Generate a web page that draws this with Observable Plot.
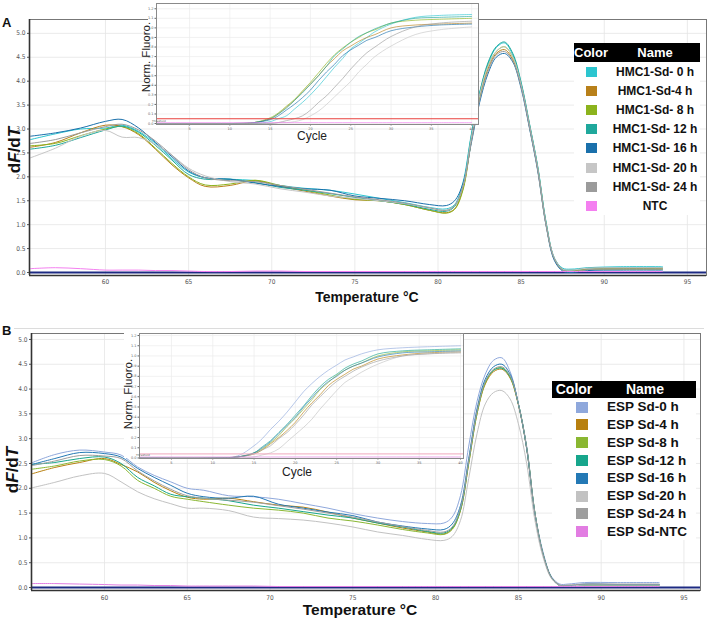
<!DOCTYPE html>
<html><head><meta charset="utf-8">
<script src="https://cdn.jsdelivr.net/npm/d3@7"></script>
<script src="https://cdn.jsdelivr.net/npm/@observablehq/plot@0.6"></script>
<style>
body{margin:0;background:#fff;font-family:"Liberation Sans",Arial,sans-serif;}
#root{position:relative;width:709px;height:619px;overflow:hidden;background:#fff;}
#root > *{position:absolute;}
</style></head><body><div id="root"></div>
<script>
// ---------- data ----------
const temps = [55.5, 57, 58.5, 60, 61, 62, 63, 64, 65, 66, 67.5, 69, 70.5, 72, 73.5, 75, 76.5, 78, 79.5, 80.5, 81, 81.5, 82, 82.5, 83, 83.5, 84, 84.5, 85, 85.5, 86, 86.5, 87, 87.5, 88, 89, 91, 93.5];
const tempTicks = [60, 65, 70, 75, 80, 85, 90, 95];
const dfTicks = [0, 0.5, 1, 1.5, 2, 2.5, 3, 3.5, 4, 4.5, 5];
const cycles = [1, 10, 13, 15, 16, 17, 18, 19, 20, 21, 22, 23, 24, 25, 26, 27, 28, 30, 33, 36, 40];
const cycleTicks = [5, 10, 15, 20, 25, 30, 35, 40];
const fluoTicks = [0, 0.1, 0.2, 0.3, 0.4, 0.5, 0.6, 0.7, 0.8, 0.9, 1.0, 1.1, 1.2];

const namesA = ["HMC1-Sd- 0 h", "HMC1-Sd-4 h", "HMC1-Sd- 8 h", "HMC1-Sd- 12 h", "HMC1-Sd- 16 h", "HMC1-Sd- 20 h", "HMC1-Sd- 24 h", "NTC"];
const colorsA = ["#2cc5cf", "#b8801a", "#8cb31d", "#1fa89c", "#1a70ab", "#c6c6c6", "#9b9b9b", "#f47ff0"];
const namesB = ["ESP Sd-0 h", "ESP Sd-4 h", "ESP Sd-8 h", "ESP Sd-12 h", "ESP Sd-16 h", "ESP Sd-20 h", "ESP Sd-24 h", "ESP Sd-NTC"];
const colorsB = ["#8fa8dc", "#b8800f", "#8ab732", "#17a68c", "#2479b5", "#c2c2c2", "#9e9e9e", "#e27de2"];

// melt curves, panel A
const meltA_0h  = [2.78, 2.9, 3.0, 3.02, 3.08, 2.95, 2.7, 2.38, 2.1, 1.98, 1.95, 1.92, 1.82, 1.76, 1.72, 1.64, 1.55, 1.46, 1.36, 1.33, 1.42, 1.88, 2.88, 3.75, 4.35, 4.7, 4.8, 4.55, 3.95, 3.1, 2.22, 1.05, 0.3, 0.09, 0.07, 0.1, 0.12, 0.12];
const meltA_4h  = [2.62, 2.72, 2.92, 3.08, 3.05, 2.88, 2.58, 2.25, 1.98, 1.8, 1.82, 1.92, 1.8, 1.7, 1.6, 1.52, 1.5, 1.42, 1.3, 1.25, 1.33, 1.75, 2.75, 3.65, 4.25, 4.58, 4.66, 4.45, 3.9, 3.05, 2.15, 1.0, 0.28, 0.06, 0.03, 0.07, 0.08, 0.08];
const meltA_8h  = [2.65, 2.7, 2.86, 3.0, 3.05, 2.9, 2.6, 2.28, 2.0, 1.83, 1.85, 1.93, 1.82, 1.72, 1.62, 1.53, 1.5, 1.42, 1.3, 1.24, 1.32, 1.72, 2.75, 3.65, 4.3, 4.62, 4.72, 4.5, 3.92, 3.08, 2.18, 1.02, 0.28, 0.05, 0.03, 0.06, 0.07, 0.07];
const meltA_12h = [2.58, 2.66, 2.82, 2.98, 3.06, 2.93, 2.66, 2.35, 2.05, 1.95, 1.95, 1.88, 1.78, 1.72, 1.65, 1.57, 1.5, 1.43, 1.32, 1.28, 1.38, 1.82, 2.85, 3.75, 4.38, 4.72, 4.82, 4.58, 3.98, 3.12, 2.2, 1.05, 0.3, 0.07, 0.05, 0.09, 0.1, 0.1];
const meltA_16h = [2.85, 2.92, 3.02, 3.16, 3.2, 3.02, 2.72, 2.42, 2.12, 1.98, 1.95, 1.87, 1.8, 1.75, 1.72, 1.6, 1.55, 1.5, 1.42, 1.4, 1.5, 1.86, 2.7, 3.55, 4.15, 4.5, 4.58, 4.4, 3.85, 3.02, 2.12, 0.98, 0.25, 0.03, 0.0, 0.04, 0.05, 0.05];
const meltA_20h = [2.4, 2.6, 2.85, 2.97, 2.83, 2.82, 2.68, 2.45, 2.18, 2.02, 1.9, 1.85, 1.75, 1.68, 1.6, 1.55, 1.5, 1.44, 1.35, 1.3, 1.4, 1.8, 2.8, 3.7, 4.3, 4.62, 4.72, 4.5, 3.92, 3.08, 2.18, 1.02, 0.3, 0.07, 0.05, 0.09, 0.1, 0.1];
const meltA_24h = [2.7, 2.78, 2.92, 3.05, 3.1, 2.98, 2.75, 2.45, 2.15, 1.98, 1.92, 1.9, 1.82, 1.74, 1.66, 1.58, 1.52, 1.45, 1.35, 1.3, 1.4, 1.8, 2.72, 3.6, 4.2, 4.55, 4.62, 4.42, 3.88, 3.05, 2.15, 1.0, 0.28, 0.05, 0.02, 0.06, 0.07, 0.07];
const meltA_NTC = [0.08, 0.1, 0.08, 0.05, 0.05, 0.05, 0.04, 0.04, 0.03, 0.02, 0.02, 0.03, 0.03, 0.02, 0.02, 0.02, 0.02, 0.02, 0.02, 0.02, 0.02, 0.02, 0.02, 0.02, 0.02, 0.02, 0.02, 0.02, 0.02, 0.02, 0.02, 0.02, 0.02, 0.02, 0.02, 0.02, 0.02, 0.02];

// melt curves, panel B
const meltB_0h  = [2.5, 2.68, 2.77, 2.73, 2.67, 2.43, 2.26, 2.13, 2.0, 1.96, 1.85, 1.83, 1.78, 1.69, 1.6, 1.49, 1.4, 1.33, 1.29, 1.3, 1.42, 1.85, 2.85, 3.75, 4.3, 4.58, 4.63, 4.35, 3.7, 2.85, 1.5, 0.7, 0.22, 0.07, 0.07, 0.1, 0.1, 0.1];
const meltB_4h  = [2.28, 2.42, 2.52, 2.6, 2.48, 2.33, 2.12, 1.95, 1.82, 1.78, 1.8, 1.73, 1.66, 1.62, 1.52, 1.4, 1.3, 1.2, 1.12, 1.08, 1.18, 1.55, 2.5, 3.5, 4.1, 4.35, 4.4, 4.22, 3.68, 2.8, 1.48, 0.65, 0.2, 0.04, 0.03, 0.05, 0.05, 0.05];
const meltB_8h  = [2.38, 2.45, 2.55, 2.58, 2.45, 2.16, 2.0, 1.84, 1.78, 1.73, 1.66, 1.6, 1.56, 1.5, 1.4, 1.34, 1.26, 1.17, 1.1, 1.07, 1.17, 1.55, 2.5, 3.5, 4.12, 4.38, 4.43, 4.24, 3.7, 2.82, 1.5, 0.66, 0.2, 0.04, 0.03, 0.05, 0.05, 0.05];
const meltB_12h = [2.48, 2.52, 2.6, 2.63, 2.5, 2.22, 2.05, 1.88, 1.83, 1.8, 1.75, 1.66, 1.6, 1.53, 1.46, 1.4, 1.3, 1.22, 1.13, 1.1, 1.2, 1.58, 2.55, 3.55, 4.15, 4.38, 4.42, 4.25, 3.7, 2.82, 1.5, 0.66, 0.2, 0.04, 0.03, 0.05, 0.05, 0.05];
const meltB_16h = [2.47, 2.6, 2.72, 2.7, 2.63, 2.4, 2.22, 2.06, 1.9, 1.83, 1.8, 1.84, 1.68, 1.6, 1.52, 1.45, 1.32, 1.24, 1.18, 1.17, 1.28, 1.65, 2.6, 3.6, 4.2, 4.45, 4.5, 4.3, 3.7, 2.8, 1.48, 0.66, 0.2, 0.04, 0.03, 0.07, 0.06, 0.06];
const meltB_20h = [2.0, 2.12, 2.25, 2.3, 2.13, 1.93, 1.79, 1.69, 1.6, 1.6, 1.55, 1.42, 1.39, 1.36, 1.3, 1.22, 1.12, 1.05, 0.97, 0.95, 1.03, 1.35, 2.2, 3.1, 3.7, 3.93, 3.97, 3.8, 3.3, 2.5, 1.35, 0.6, 0.18, 0.04, 0.03, 0.05, 0.05, 0.05];
const meltB_24h = [2.45, 2.55, 2.66, 2.65, 2.6, 2.35, 2.15, 1.98, 1.85, 1.8, 1.76, 1.72, 1.65, 1.58, 1.5, 1.42, 1.32, 1.23, 1.15, 1.12, 1.22, 1.6, 2.55, 3.55, 4.15, 4.4, 4.45, 4.27, 3.7, 2.82, 1.5, 0.66, 0.2, 0.05, 0.05, 0.07, 0.07, 0.07];
const meltB_NTC = [0.08, 0.08, 0.07, 0.06, 0.05, 0.05, 0.04, 0.04, 0.03, 0.03, 0.03, 0.03, 0.02, 0.02, 0.02, 0.02, 0.02, 0.02, 0.02, 0.02, 0.02, 0.02, 0.02, 0.02, 0.02, 0.02, 0.02, 0.02, 0.02, 0.02, 0.02, 0.02, 0.02, 0.02, 0.02, 0.02, 0.02, 0.02];

// amplification curves (insets), panel A
const ampA_0h  = [0, 0, 0, 0.02, 0.05, 0.08, 0.15, 0.22, 0.3, 0.39, 0.49, 0.59, 0.68, 0.78, 0.84, 0.9, 0.96, 1.04, 1.11, 1.13, 1.14];
const ampA_4h  = [0, 0, 0.01, 0.05, 0.1, 0.17, 0.24, 0.33, 0.41, 0.5, 0.6, 0.68, 0.76, 0.81, 0.86, 0.9, 0.93, 1.0, 1.03, 1.04, 1.05];
const ampA_8h  = [0, 0, 0.01, 0.06, 0.11, 0.18, 0.25, 0.34, 0.43, 0.53, 0.63, 0.72, 0.79, 0.85, 0.9, 0.95, 0.98, 1.05, 1.08, 1.09, 1.10];
const ampA_12h = [0, 0, 0.01, 0.05, 0.1, 0.16, 0.24, 0.32, 0.41, 0.5, 0.6, 0.71, 0.78, 0.85, 0.91, 0.95, 0.99, 1.05, 1.1, 1.11, 1.12];
const ampA_16h = [0, 0, 0.01, 0.04, 0.08, 0.14, 0.2, 0.27, 0.35, 0.45, 0.54, 0.62, 0.71, 0.77, 0.82, 0.87, 0.9, 0.97, 1.01, 1.03, 1.04];
const ampA_20h = [0, 0, 0, 0, 0.01, 0.01, 0.02, 0.04, 0.08, 0.13, 0.2, 0.28, 0.36, 0.44, 0.54, 0.62, 0.7, 0.81, 0.93, 0.98, 1.01];
const ampA_24h = [0, 0, 0, 0, 0.01, 0.03, 0.05, 0.08, 0.14, 0.22, 0.29, 0.38, 0.47, 0.57, 0.66, 0.74, 0.8, 0.91, 1.01, 1.05, 1.07];
const ampA_NTC = [0.01, 0.01, 0.01, 0.01, 0.01, 0.01, 0.01, 0.01, 0.01, 0.01, 0.01, 0.01, 0.01, 0.01, 0.01, 0.01, 0.01, 0.01, 0.01, 0.01, 0.01];
const thresholdA = 0.05;

// amplification curves (insets), panel B
const ampB_0h  = [0, 0, 0.02, 0.12, 0.19, 0.28, 0.36, 0.45, 0.55, 0.65, 0.73, 0.8, 0.86, 0.91, 0.96, 0.99, 1.02, 1.06, 1.08, 1.09, 1.1];
const ampB_4h  = [0, 0, 0.01, 0.04, 0.08, 0.14, 0.2, 0.27, 0.35, 0.45, 0.54, 0.62, 0.71, 0.77, 0.82, 0.87, 0.9, 0.97, 1.01, 1.03, 1.04];
const ampB_8h  = [0, 0, 0.01, 0.05, 0.09, 0.15, 0.22, 0.31, 0.39, 0.48, 0.57, 0.67, 0.74, 0.81, 0.86, 0.9, 0.93, 1.0, 1.04, 1.05, 1.06];
const ampB_12h = [0, 0, 0.01, 0.05, 0.11, 0.17, 0.25, 0.33, 0.42, 0.51, 0.61, 0.7, 0.77, 0.82, 0.88, 0.92, 0.95, 1.02, 1.05, 1.06, 1.07];
const ampB_16h = [0, 0, 0.01, 0.05, 0.1, 0.16, 0.24, 0.32, 0.4, 0.5, 0.59, 0.68, 0.75, 0.8, 0.86, 0.9, 0.93, 0.99, 1.03, 1.04, 1.05];
const ampB_20h = [0, 0, 0, 0.01, 0.03, 0.05, 0.09, 0.16, 0.23, 0.3, 0.38, 0.48, 0.57, 0.66, 0.74, 0.79, 0.84, 0.92, 1.0, 1.02, 1.04];
const ampB_24h = [0, 0, 0.01, 0.04, 0.08, 0.12, 0.19, 0.25, 0.33, 0.42, 0.52, 0.6, 0.68, 0.75, 0.8, 0.85, 0.89, 0.95, 1.0, 1.02, 1.03];
const ampB_NTC = [0.01, 0.01, 0.01, 0.01, 0.01, 0.01, 0.01, 0.01, 0.01, 0.01, 0.01, 0.01, 0.01, 0.01, 0.01, 0.01, 0.01, 0.01, 0.01, 0.01, 0.01];
const thresholdB = 0.04;

// ---------- helpers ----------
function tidy(xs, names, series) {
  return series.flatMap((vals, k) => vals.map((v, i) => ({x: xs[i], y: v, name: names[k]})));
}
const root = document.getElementById("root");
function place(el, left, top) { el.style.left = left + "px"; el.style.top = top + "px"; root.appendChild(el); return el; }
function div(left, top, w, h, css) {
  const d = document.createElement("div");
  d.style.cssText = `width:${w}px;height:${h}px;` + (css || "");
  return place(d, left, top);
}
function label(text, left, top, css) {
  const d = document.createElement("div");
  d.textContent = text;
  d.style.cssText = "white-space:nowrap;" + css;
  return place(d, left, top);
}

function meltPanel(o) {
  const rows = tidy(temps, o.names, o.series);
  const svg = Plot.plot({
    width: o.w, height: o.h,
    marginTop: o.m[0], marginRight: o.m[1], marginBottom: o.m[2], marginLeft: o.m[3],
    style: {background: "transparent", overflow: "visible", fontFamily: "'DejaVu Sans Condensed','Liberation Sans Narrow','DejaVu Sans',sans-serif", fontSize: "6.5px", color: "#555"},
    x: {domain: o.xDomain, ticks: tempTicks, tickSize: 0, tickPadding: o.xPad, tickFormat: d => d, label: null},
    y: {domain: o.yDomain, ticks: dfTicks, tickSize: 2, tickPadding: 2, tickFormat: d3.format(".1f"), label: null},
    color: {domain: o.names, range: o.colors},
    marks: [
      Plot.ruleX(tempTicks, {stroke: "#e6e6e6", strokeWidth: 0.8}),
      Plot.ruleY(dfTicks, {stroke: "#e6e6e6", strokeWidth: 0.8}),
      Plot.ruleY([0], {stroke: "#1d2a82", strokeWidth: 1.8}),
      Plot.line(rows, {x: "x", y: "y", z: "name", stroke: "name", strokeWidth: 1, curve: "catmull-rom", clip: true}),
      Plot.frame({stroke: "#777", strokeWidth: 1}),
      Plot.ruleX([o.xDomain[0]], {stroke: "#333", strokeWidth: 1.6}),
      Plot.ruleY([o.yDomain[0]], {stroke: "#333", strokeWidth: 1.6})
    ]
  });
  const s = d3.select(svg);
  const t = s.append("text")
    .attr("transform", `translate(${o.yLab[0]},${o.yLab[1]}) rotate(-90)`)
    .attr("text-anchor", "middle").attr("dy", "0.35em")
    .attr("font-family", "'Liberation Sans',Arial,sans-serif").attr("font-weight", "bold")
    .attr("font-size", 17).attr("fill", "#111");
  t.append("tspan").text("d");
  t.append("tspan").attr("font-style", "italic").text("F");
  t.append("tspan").text("/d");
  t.append("tspan").attr("font-style", "italic").text("T");
  s.append("text").attr("x", o.xLab[0]).attr("y", o.xLab[1]).attr("text-anchor", "middle")
    .attr("font-family", "'Liberation Sans',Arial,sans-serif").attr("font-weight", "bold")
    .attr("font-size", o.xLabSize).attr("fill", "#111").text("Temperature \u00B0C");
  return svg;
}

function ampPanel(o) {
  const rows = tidy(cycles, o.names, o.series);
  const svg = Plot.plot({
    width: o.w, height: o.h,
    marginTop: o.m[0], marginRight: o.m[1], marginBottom: o.m[2], marginLeft: o.m[3],
    style: {background: "transparent", fontFamily: "'DejaVu Sans',sans-serif", fontSize: "3.5px", color: "#666"},
    x: {domain: o.xDomain, ticks: cycleTicks, tickSize: 1.5, tickPadding: 1, label: null},
    y: {domain: o.yDomain, ticks: fluoTicks, tickSize: 1.5, tickPadding: 1.5, tickFormat: d3.format(".1f"), label: null},
    color: {domain: o.names, range: o.colors},
    marks: [
      Plot.frame({fill: "white", stroke: null}),
      Plot.ruleX(cycleTicks, {stroke: "#ececec", strokeWidth: 0.7}),
      Plot.ruleY(fluoTicks, {stroke: "#ececec", strokeWidth: 0.7}),
      Plot.line(rows, {x: "x", y: "y", z: "name", stroke: "name", strokeWidth: 0.8, strokeOpacity: 0.8, curve: "catmull-rom", clip: true}),
      Plot.ruleY([o.threshold], {stroke: o.thrColor, strokeWidth: 1}),
      Plot.frame({stroke: "#8a8a8a", strokeWidth: 1})
    ]
  });
  const s = d3.select(svg);
  s.append("text").attr("transform", `translate(${o.yLab[0]},${o.yLab[1]}) rotate(-90)`)
    .attr("text-anchor", "middle").attr("dy", "0.35em")
    .attr("font-family", "'Liberation Sans',Arial,sans-serif").attr("font-size", 11.5).attr("fill", "#222").text("Norm. Fluoro.");
  s.append("text").attr("x", o.xLab[0]).attr("y", o.xLab[1]).attr("text-anchor", "middle")
    .attr("font-family", "'Liberation Sans',Arial,sans-serif").attr("font-size", 12).attr("fill", "#222").text("Cycle");
  s.append("text").attr("x", o.thrLab[0]).attr("y", o.thrLab[1])
    .attr("font-family", "'DejaVu Sans',sans-serif").attr("font-size", 2.8).attr("fill", "#555").text("Threshold");
  return svg;
}

function legend(o) {
  const hdr = div(o.x, o.y, o.w, o.hh, `background:#000;color:#fff;font-weight:bold;font-size:${o.hf}px;line-height:${o.hh}px;`);
  const c = document.createElement("span"); c.textContent = "Color";
  c.style.cssText = `position:absolute;left:${o.colX - o.x}px;transform:translateX(-50%);`;
  const n = document.createElement("span"); n.textContent = "Name";
  n.style.cssText = `position:absolute;left:${o.nameHX - o.x}px;transform:translateX(-50%);`;
  hdr.appendChild(c); hdr.appendChild(n);
  div(o.x, o.y + o.hh, o.w, o.bh, "background:#fff;");
  o.names.forEach((nm, i) => {
    const cy = o.row0 + i * o.dy;
    div(o.swX, cy - o.swH / 2, o.swW, o.swH, `background:${o.colors[i]};`);
    label(nm, o.nameX, cy - (o.tf + 2) / 2,
      `font-weight:bold;color:#111;font-size:${o.tf}px;line-height:${o.tf + 2}px;` + (o.center ? `transform:translateX(-50%);` : ``));
  });
}

// ---------- panel A ----------
const svgA = meltPanel({
  names: namesA, colors: colorsA,
  series: [meltA_0h, meltA_4h, meltA_8h, meltA_12h, meltA_16h, meltA_20h, meltA_24h, meltA_NTC],
  w: 709, h: 310, m: [19, 3, 35, 29], xPad: 4,
  xDomain: [55.43, 96.15], yDomain: [-0.063, 5.29],
  yLab: [14, 150], xLab: [367, 302], xLabSize: 14
});
place(svgA, 0, 0);
label("A", 2, 15, "font-weight:bold;font-size:13px;line-height:15px;color:#111;");
div(148, 0, 330, 124, "background:#fff;");
const insA = ampPanel({
  names: namesA, colors: colorsA,
  series: [ampA_0h, ampA_4h, ampA_8h, ampA_12h, ampA_16h, ampA_20h, ampA_24h, ampA_NTC],
  w: 350, h: 145, m: [3, 2, 21, 26],
  xDomain: [0.9, 40.85], yDomain: [-0.01, 1.255],
  threshold: thresholdA, thrColor: "#e8413c",
  yLab: [16, 57], xLab: [182, 140], thrLab: [29, 122]
});
place(insA, 130, 0);
legend({
  names: namesA, colors: colorsA,
  x: 574, y: 43, w: 126, hh: 19, hf: 13, bh: 153, colX: 591, nameHX: 655,
  row0: 72, dy: 19.1, swX: 586, swW: 11, swH: 10, tf: 12, nameX: 655, center: true
});

// ---------- panel B ----------
div(14, 328, 690, 1, "background:#dcdcdc;");
const svgB = meltPanel({
  names: namesB, colors: colorsB,
  series: [meltB_0h, meltB_4h, meltB_8h, meltB_12h, meltB_16h, meltB_20h, meltB_24h, meltB_NTC],
  w: 709, h: 309, m: [23, 9, 29, 31], xPad: 5,
  xDomain: [55.59, 96.0], yDomain: [-0.06, 5.12],
  yLab: [12, 160], xLab: [360, 305], xLabSize: 15.5
});
place(svgB, 0, 310);
label("B", 2, 323, "font-weight:bold;font-size:13px;line-height:15px;color:#111;");
div(124, 330, 339, 128, "background:#fff;");
const insB = ampPanel({
  names: namesB, colors: colorsB,
  series: [ampB_0h, ampB_4h, ampB_8h, ampB_12h, ampB_16h, ampB_20h, ampB_24h, ampB_NTC],
  w: 350, h: 155, m: [8, 2, 22, 24],
  xDomain: [1.13, 40.36], yDomain: [-0.005, 1.22],
  threshold: thresholdB, thrColor: "#f0a8bc",
  yLab: [13, 69], xLab: [182, 151], thrLab: [28, 131]
});
place(insB, 115, 325);
legend({
  names: namesB, colors: colorsB,
  x: 552, y: 381, w: 144, hh: 17, hf: 14, bh: 142, colX: 574, nameHX: 645,
  row0: 407, dy: 17.8, swX: 576, swW: 12, swH: 11, tf: 13.5, nameX: 607, center: false
});
</script></body></html>
